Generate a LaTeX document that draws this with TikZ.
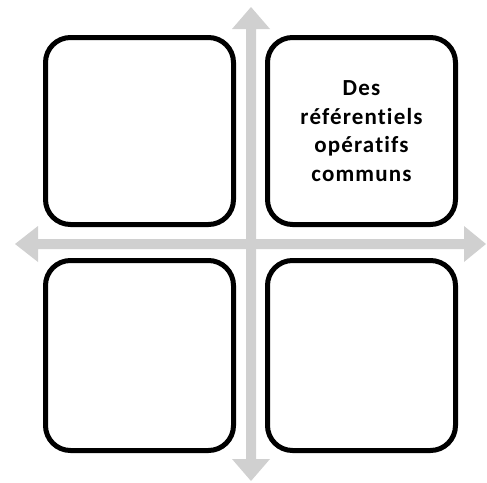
\documentclass[tikz,border=0pt]{standalone}
\usepackage{fontspec}
\setmainfont{Carlito}
\newfontfamily\labelfont{Carlito}[Ligatures=NoCommon,LetterSpace=5]
\definecolor{arrowgray}{RGB}{208,208,208}
\begin{document}
\begin{tikzpicture}[x=1pt,y=-1pt,
  quad/.style={draw=black, line width=5pt, rounded corners=25pt, fill=white,
    minimum width=188pt, inner sep=0pt, align=center,
    font=\labelfont\fontsize{23}{28.5}\selectfont\bfseries},
  axisarrow/.style={fill=arrowgray, draw=none}]
\useasboundingbox (0,0) rectangle (487,482);
% vertical double arrow
\fill[axisarrow] (251,7) -- (270,29) -- (256,29) -- (256,459) -- (270,459)
  -- (251,481) -- (232,459) -- (246,459) -- (246,29) -- (232,29) -- cycle;
% horizontal double arrow
\fill[axisarrow] (15,244) -- (38,226) -- (38,239) -- (464,239) -- (464,226)
  -- (486,244) -- (464,262) -- (464,249) -- (38,249) -- (38,262) -- cycle;
% quadrants
\node[quad, minimum height=187pt] (tl) at (139.5,131) {};
\node[quad, minimum height=187pt] (tr) at (361.5,131) {Des\\référentiels\\opératifs\\communs};
\node[quad, minimum height=190pt] (bl) at (139.5,355.5) {};
\node[quad, minimum height=190pt] (br) at (361.5,355.5) {};
\end{tikzpicture}
\end{document}
